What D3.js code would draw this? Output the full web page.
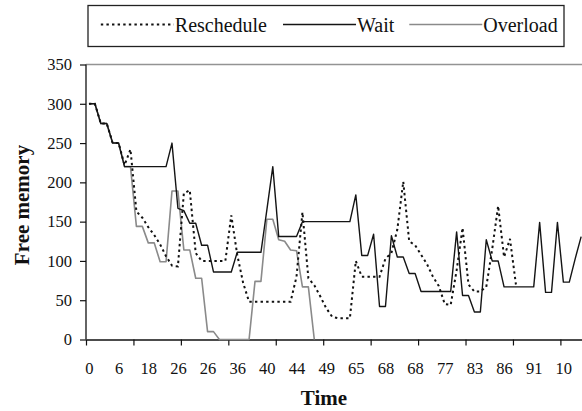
<!DOCTYPE html>
<html>
<head>
<meta charset="utf-8">
<script src="https://cdn.jsdelivr.net/npm/d3@7"></script>
<style>
  html, body { margin: 0; padding: 0; background: #fff; }
  svg { display: block; }
  svg text { font-family: "Liberation Serif", "Times New Roman", serif; fill: #111; }
</style>
</head>
<body>
<svg id="chart" width="582" height="411"></svg>
<script>
// Free memory over time for three policies (one value per time step)
const wait = [
  300, 300, 275, 275, 250, 250, 220, 220, 220, 220,
  220, 220, 220, 220, 250, 167, 164, 148, 148, 120,
  120, 86, 86, 86, 86, 111, 111, 111, 111, 111,
  165, 220, 131, 131, 131, 131, 150, 150, 150, 150,
  150, 150, 150, 150, 150, 184, 107, 107, 134, 42,
  42, 132, 105, 105, 84, 84, 61, 61, 61, 61,
  61, 61, 137, 56, 56, 35, 35, 127, 100, 100,
  67, 67, 67, 67, 67, 67, 149, 60, 60, 149,
  73, 73, 103, 131
];

const reschedule = [
  300, 300, 275, 275, 250, 250, 222, 242, 163, 155,
  143, 133, 121, 106, 94, 93, 186, 190, 110, 100,
  100, 100, 100, 100, 158, 108, 72, 48, 48, 48,
  48, 48, 48, 48, 48, 80, 162, 78, 69, 55,
  40, 29, 27, 27, 27, 100, 80, 80, 80, 80,
  103, 110, 140, 201, 125, 120, 108, 96, 80, 68,
  45, 44, 88, 142, 70, 61, 61, 67, 115, 170,
  105, 128, 70
];

const overload = [
  300, 300, 275, 275, 250, 250, 220, 220, 144, 144,
  123, 123, 99, 99, 189, 189, 114, 114, 78, 78,
  10, 10, 0, 0, 0, 0, 0, 0, 74, 74,
  153, 153, 127, 125, 114, 113, 67, 67, 0
];

// Time labels, shown under every fifth step
const timeLabels = ["0", "6", "18", "26", "26", "36", "40", "44", "49",
                    "65", "68", "68", "77", "83", "86", "91", "10"];
const labelEvery = 5;
const tickEvery = 8;

const yTicks = [0, 50, 100, 150, 200, 250, 300, 350];

const seriesNames = ["Reschedule", "Wait", "Overload"];

const serif = '"Liberation Serif", "Times New Roman", serif';
const svg = d3.select("#chart");

const plot = { left: 86, top: 64.5, bottom: 339.5, step: 5.93 };
const n = wait.length;

// x: step index -> pixel (each step occupies one slot, point drawn at slot centre)
const x = d3.scaleLinear()
  .domain([0, n])
  .range([plot.left, plot.left + n * plot.step]);

const y = d3.scaleLinear()
  .domain([0, 350])
  .range([plot.bottom, plot.top]);

// top reference line at 350
svg.append("line")
  .attr("x1", plot.left).attr("x2", 582)
  .attr("y1", y(350)).attr("y2", y(350))
  .attr("stroke", "#939393").attr("stroke-width", 1.5);

// y axis
const yAxis = svg.append("g")
  .attr("transform", `translate(${plot.left},0)`)
  .call(d3.axisLeft(y).tickValues(yTicks).tickSize(6).tickSizeOuter(0).tickPadding(8));
yAxis.attr("font-family", serif).attr("font-size", 16.5);
yAxis.select(".domain").attr("stroke", "#111").attr("stroke-width", 1.3)
  .attr("d", `M0,${y(350)}V${y(0)}`);
yAxis.selectAll(".tick line").attr("stroke", "#111").attr("stroke-width", 1.2);
yAxis.selectAll(".tick text")
  .attr("font-family", serif).style("font-family", serif)
  .style("font-size", "16.5px").attr("fill", "#111");

// x axis: tick marks on slot boundaries
const xAxis = svg.append("g")
  .attr("transform", `translate(0,${plot.bottom})`)
  .call(d3.axisBottom(x).tickValues(d3.range(0, n + 1, tickEvery))
    .tickFormat("").tickSize(6).tickSizeOuter(0));
xAxis.select(".domain").attr("stroke", "#111").attr("stroke-width", 1.3);
xAxis.selectAll(".tick line").attr("stroke", "#111").attr("stroke-width", 1.2);

// x axis: time labels centred under their step
const labelPos = timeLabels.map((_, k) => k * labelEvery + 0.5);
const xLabels = svg.append("g")
  .attr("transform", `translate(0,${plot.bottom})`)
  .call(d3.axisBottom(x).tickValues(labelPos)
    .tickFormat((d, k) => timeLabels[k]).tickSize(0).tickPadding(34.5));
xLabels.attr("font-family", serif).attr("font-size", 16.5);
xLabels.select(".domain").remove();
xLabels.selectAll(".tick text")
  .attr("font-family", serif).style("font-family", serif)
  .style("font-size", "16.5px").attr("fill", "#111")
  .attr("dy", "0");

// series lines
const line = d3.line()
  .x((d, i) => x(i + 0.5))
  .y(d => y(d));

svg.append("path").datum(overload)
  .attr("d", line).attr("fill", "none")
  .attr("stroke", "#8a8a8a").attr("stroke-width", 1.6)
  .attr("stroke-linejoin", "round");

svg.append("path").datum(wait)
  .attr("d", line).attr("fill", "none")
  .attr("stroke", "#141414").attr("stroke-width", 1.4)
  .attr("stroke-linejoin", "round");

svg.append("path").datum(reschedule)
  .attr("d", line).attr("fill", "none")
  .attr("stroke", "#111").attr("stroke-width", 2)
  .attr("stroke-dasharray", "2.4 3.2");

// axis titles
svg.append("text")
  .attr("x", 324).attr("y", 405)
  .attr("text-anchor", "middle")
  .style("font-size", "21px").style("font-weight", "bold")
  .text("Time");

svg.append("text")
  .attr("transform", "translate(29,205) rotate(-90)")
  .attr("text-anchor", "middle")
  .style("font-size", "21px").style("font-weight", "bold")
  .text("Free memory");

// legend
const legend = svg.append("g");
legend.append("rect")
  .attr("x", 88).attr("y", 5.5)
  .attr("width", 476).attr("height", 41)
  .attr("fill", "#fff").attr("stroke", "#222").attr("stroke-width", 1.3);

const legendY = 24.5, textBase = 31.5, sampleLen = 73;
const styles = [
  { stroke: "#111", width: 2, dash: "2.4 3.2" },
  { stroke: "#141414", width: 1.4, dash: null },
  { stroke: "#8a8a8a", width: 1.6, dash: null }
];

// laid out from the right edge inwards
let right = 557.7;
const gaps = [16, 15, 0];
for (let k = seriesNames.length - 1; k >= 0; k--) {
  const t = legend.append("text")
    .attr("x", right).attr("y", textBase)
    .attr("text-anchor", "end")
    .style("font-size", "20px")
    .text(seriesNames[k]);
  const w = t.node().getComputedTextLength();
  const lineEnd = right - w - 1;
  legend.append("line")
    .attr("x1", lineEnd - sampleLen).attr("x2", lineEnd)
    .attr("y1", legendY).attr("y2", legendY)
    .attr("stroke", styles[k].stroke)
    .attr("stroke-width", styles[k].width)
    .attr("stroke-dasharray", styles[k].dash);
  right = lineEnd - sampleLen - (k > 0 ? gaps[k - 1] : 0);
}
</script>
</body>
</html>
